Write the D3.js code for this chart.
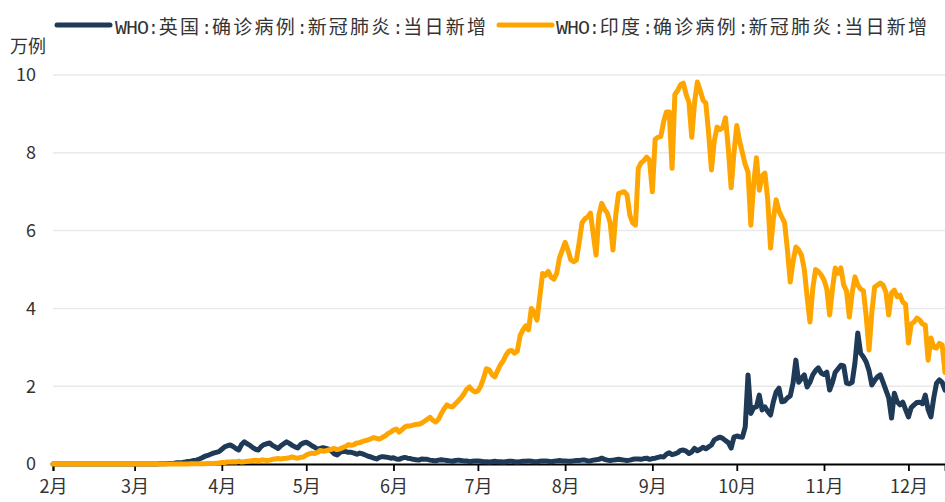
<!DOCTYPE html>
<html>
<head>
<meta charset="utf-8">
<script src="https://cdn.jsdelivr.net/npm/d3@7"></script>
<style>
  html, body { margin: 0; padding: 0; background: #fff; }
  svg { display: block; }
  text { font-family: "Noto Sans CJK SC", "Noto Sans", sans-serif; fill: #333; }
</style>
</head>
<body>
<svg id="chart" width="945" height="502"></svg>
<script>
// ---------------- DATA (units: 万例, daily, from 2020-02-01) ----------------
const seriesNames = ["WHO:英国:确诊病例:新冠肺炎:当日新增", "WHO:印度:确诊病例:新冠肺炎:当日新增"];
const seriesColors = ["#1f3a57", "#ffa500"];
const startDay = "2020-02-01";
const endDay = "2020-12-14";
const monthLabels = ["2月","3月","4月","5月","6月","7月","8月","9月","10月","11月","12月"];
const yTicks = [0, 2, 4, 6, 8, 10];
const yUnit = "万例";

const ukDaily = [
  // Feb
  0,0,0,0,0,0,0,0,0,0,0,0,0,0,0,0,0,0,0,0,0,0,0,0,0,0,0,0,0,
  // Mar
  0,0,0,0,0,0,0.001,0.002,0.003,0.005,0.005,0.008,0.01,0.013,0.02,0.03,0.035,0.04,0.05,0.065,0.07,0.09,0.1,0.13,0.16,0.2,0.22,0.25,0.28,0.3,0.32,
  // Apr
  0.38,0.44,0.47,0.49,0.45,0.4,0.36,0.5,0.57,0.52,0.48,0.42,0.38,0.36,0.45,0.5,0.52,0.54,0.48,0.44,0.4,0.47,0.52,0.57,0.53,0.48,0.44,0.41,0.5,0.54,
  // May
  0.56,0.52,0.47,0.43,0.38,0.4,0.42,0.4,0.38,0.33,0.26,0.23,0.3,0.33,0.32,0.3,0.3,0.28,0.25,0.28,0.26,0.23,0.2,0.18,0.15,0.13,0.17,0.19,0.18,0.17,0.15,
  // Jun
  0.16,0.13,0.12,0.15,0.17,0.15,0.14,0.12,0.11,0.1,0.13,0.12,0.12,0.1,0.09,0.08,0.1,0.11,0.1,0.09,0.08,0.07,0.09,0.1,0.09,0.08,0.08,0.06,0.07,0.08,
  // Jul
  0.08,0.07,0.06,0.06,0.05,0.06,0.07,0.06,0.06,0.05,0.06,0.07,0.07,0.06,0.05,0.06,0.07,0.07,0.08,0.07,0.06,0.06,0.07,0.08,0.08,0.07,0.06,0.07,0.08,0.09,0.08,
  // Aug
  0.08,0.07,0.07,0.08,0.09,0.09,0.1,0.1,0.08,0.08,0.1,0.11,0.12,0.15,0.12,0.1,0.09,0.1,0.11,0.12,0.11,0.1,0.09,0.1,0.12,0.13,0.13,0.12,0.14,0.15,0.12,
  // Sep
  0.14,0.15,0.17,0.19,0.18,0.25,0.29,0.24,0.26,0.29,0.35,0.36,0.33,0.27,0.31,0.4,0.34,0.38,0.43,0.39,0.44,0.49,0.62,0.66,0.69,0.66,0.6,0.55,0.41,0.69,
  // Oct
  0.72,0.7,0.69,0.95,2.29,1.3,1.45,1.47,1.77,1.39,1.47,1.35,1.26,1.6,1.85,1.95,1.6,1.62,1.7,1.75,2.08,2.67,2.1,2.2,2.29,1.98,2.1,2.29,2.4,2.47,2.34,
  // Nov
  2.3,2.36,1.9,2.1,2.36,2.45,2.54,2.52,2.08,2.06,2.1,2.6,3.37,2.85,2.75,2.62,2.4,2.03,2.15,2.24,2.29,2.1,1.9,1.7,1.18,1.82,1.6,1.52,1.59,1.4,
  // Dec
  1.21,1.45,1.52,1.58,1.59,1.55,1.77,1.4,1.21,1.7,2.08,2.16,2.1,1.9
];

const indiaDaily = [
  // Feb
  0,0,0,0,0,0,0,0,0,0,0,0,0,0,0,0,0,0,0,0,0,0,0,0,0,0,0,0,0,
  // Mar
  0,0,0,0,0,0,0,0,0,0,0,0.001,0.001,0.001,0.001,0.002,0.002,0.002,0.003,0.003,0.005,0.006,0.007,0.008,0.009,0.009,0.01,0.012,0.015,0.02,0.025,
  // Apr
  0.04,0.04,0.05,0.05,0.06,0.05,0.07,0.05,0.06,0.07,0.08,0.09,0.1,0.08,0.1,0.1,0.09,0.1,0.12,0.13,0.14,0.13,0.14,0.15,0.16,0.18,0.16,0.15,0.17,0.18,
  // May
  0.23,0.26,0.28,0.27,0.3,0.35,0.33,0.34,0.36,0.38,0.4,0.37,0.39,0.42,0.45,0.5,0.48,0.5,0.54,0.55,0.58,0.6,0.62,0.65,0.68,0.66,0.64,0.68,0.72,0.78,0.82,
  // Jun
  0.87,0.9,0.82,0.88,0.95,0.98,0.98,1.0,1.02,1.02,1.05,1.1,1.15,1.2,1.12,1.08,1.15,1.3,1.42,1.52,1.48,1.47,1.55,1.62,1.7,1.8,1.92,1.98,1.9,1.85,
  // Jul
  1.88,2.0,2.2,2.45,2.42,2.3,2.24,2.4,2.55,2.65,2.8,2.9,2.92,2.85,2.9,3.3,3.45,3.55,3.45,4.0,3.9,3.7,4.3,4.9,4.85,4.95,4.8,4.75,4.9,5.3,5.5,
  // Aug
  5.7,5.5,5.25,5.2,5.24,5.7,6.2,6.3,6.35,6.45,5.9,5.37,6.4,6.7,6.55,6.45,6.2,5.5,6.4,6.95,6.98,7.0,6.92,6.4,6.2,6.14,7.6,7.74,7.8,7.89,7.81,
  // Sep
  7.0,8.35,8.4,8.42,8.8,9.05,9.05,7.6,9.5,9.6,9.75,9.79,9.5,9.3,8.4,9.3,9.82,9.6,9.35,9.28,8.5,7.56,8.3,8.66,8.6,8.64,8.9,8.1,7.1,8.0,
  // Oct
  8.7,8.3,8.0,7.7,7.5,6.14,7.2,7.87,7.04,7.4,7.48,6.8,5.55,6.3,6.79,6.5,6.35,6.2,5.5,4.68,5.2,5.58,5.5,5.37,5.0,4.3,3.65,4.5,5.0,4.95,4.86,
  // Nov
  4.73,4.5,3.83,4.5,5.04,4.9,5.04,4.6,4.45,3.78,4.4,4.81,4.6,4.5,4.45,3.8,2.93,3.9,4.55,4.6,4.65,4.6,4.42,3.83,4.4,4.47,4.3,4.34,4.16,4.1,
  // Dec
  3.11,3.6,3.65,3.75,3.7,3.6,3.57,2.67,3.24,3.0,2.98,3.1,3.06,2.35
];

// ---------------- CHART ----------------
const svg = d3.select("#chart");
const plot = { left: 53, right: 945, top: 75, bottom: 464 };

const parse = d3.utcParse("%Y-%m-%d");
const t0 = parse(startDay), t1 = parse(endDay);
const dates = ukDaily.map((_, i) => d3.utcDay.offset(t0, i));

const x = d3.scaleUtc().domain([t0, t1]).range([plot.left, plot.right]);
const y = d3.scaleLinear().domain([0, 10]).range([plot.bottom, plot.top]);

// gridlines
svg.append("g").selectAll("line")
  .data(yTicks.filter(v => v > 0))
  .join("line")
  .attr("x1", plot.left).attr("x2", plot.right)
  .attr("y1", d => y(d)).attr("y2", d => y(d))
  .attr("stroke", "#e9e9e9").attr("stroke-width", 1.5);

// y labels
svg.append("g").selectAll("text")
  .data(yTicks)
  .join("text")
  .attr("x", 36).attr("y", d => y(d))
  .attr("dy", "0.35em")
  .attr("text-anchor", "end")
  .attr("font-size", 18)
  .text(d => d);

svg.append("text")
  .attr("x", 10).attr("y", 53)
  .attr("font-size", 18)
  .text(yUnit);

// x axis
const monthTicks = d3.utcMonth.range(t0, t1);
const xAxis = d3.axisBottom(x)
  .tickValues(monthTicks)
  .tickSize(7)
  .tickFormat((d, i) => monthLabels[i]);

const gx = svg.append("g")
  .attr("transform", `translate(0,${plot.bottom})`)
  .call(xAxis);
gx.select(".domain").attr("stroke", "#000").attr("stroke-width", 1.8);
gx.selectAll(".tick line").attr("stroke", "#000").attr("stroke-width", 1.8);
gx.selectAll(".tick text")
  .attr("font-size", 18)
  .attr("fill", "#333")
  .attr("font-family", '"Noto Sans CJK SC", sans-serif')
  .attr("y", 16);

// lines
const line = d3.line()
  .x((d, i) => x(dates[i]))
  .y(d => y(d))
  .curve(d3.curveLinear);

[ukDaily, indiaDaily].forEach((s, k) => {
  svg.append("path")
    .datum(s)
    .attr("fill", "none")
    .attr("stroke", seriesColors[k])
    .attr("stroke-width", 5)
    .attr("stroke-linejoin", "round")
    .attr("stroke-linecap", "round")
    .attr("d", line);
});

// legend
const legendPos = [{ lx: 57, tx: 115 }, { lx: 499, tx: 556 }];
seriesNames.forEach((name, k) => {
  const p = legendPos[k];
  svg.append("line")
    .attr("x1", p.lx).attr("x2", p.lx + 53)
    .attr("y1", 25).attr("y2", 25)
    .attr("stroke", seriesColors[k])
    .attr("stroke-width", 5)
    .attr("stroke-linecap", "round");
  const t = svg.append("text")
    .attr("x", p.tx).attr("y", 34);
  const parts = name.split(":");
  parts.forEach((part, j) => {
    const latin = /^[A-Za-z]+$/.test(part);
    t.append("tspan")
      .attr("font-family", latin ? '"Liberation Mono", monospace' : '"Noto Sans CJK SC", sans-serif')
      .attr("font-size", latin ? 20 : 19)
      .attr("letter-spacing", latin ? -1 : 2.2)
      .text(part);
    if (j < parts.length - 1) {
      t.append("tspan")
        .attr("font-family", '"Liberation Mono", monospace')
        .attr("font-size", 18)
        .attr("letter-spacing", 0)
        .text(":");
    }
  });
});
</script>
</body>
</html>
